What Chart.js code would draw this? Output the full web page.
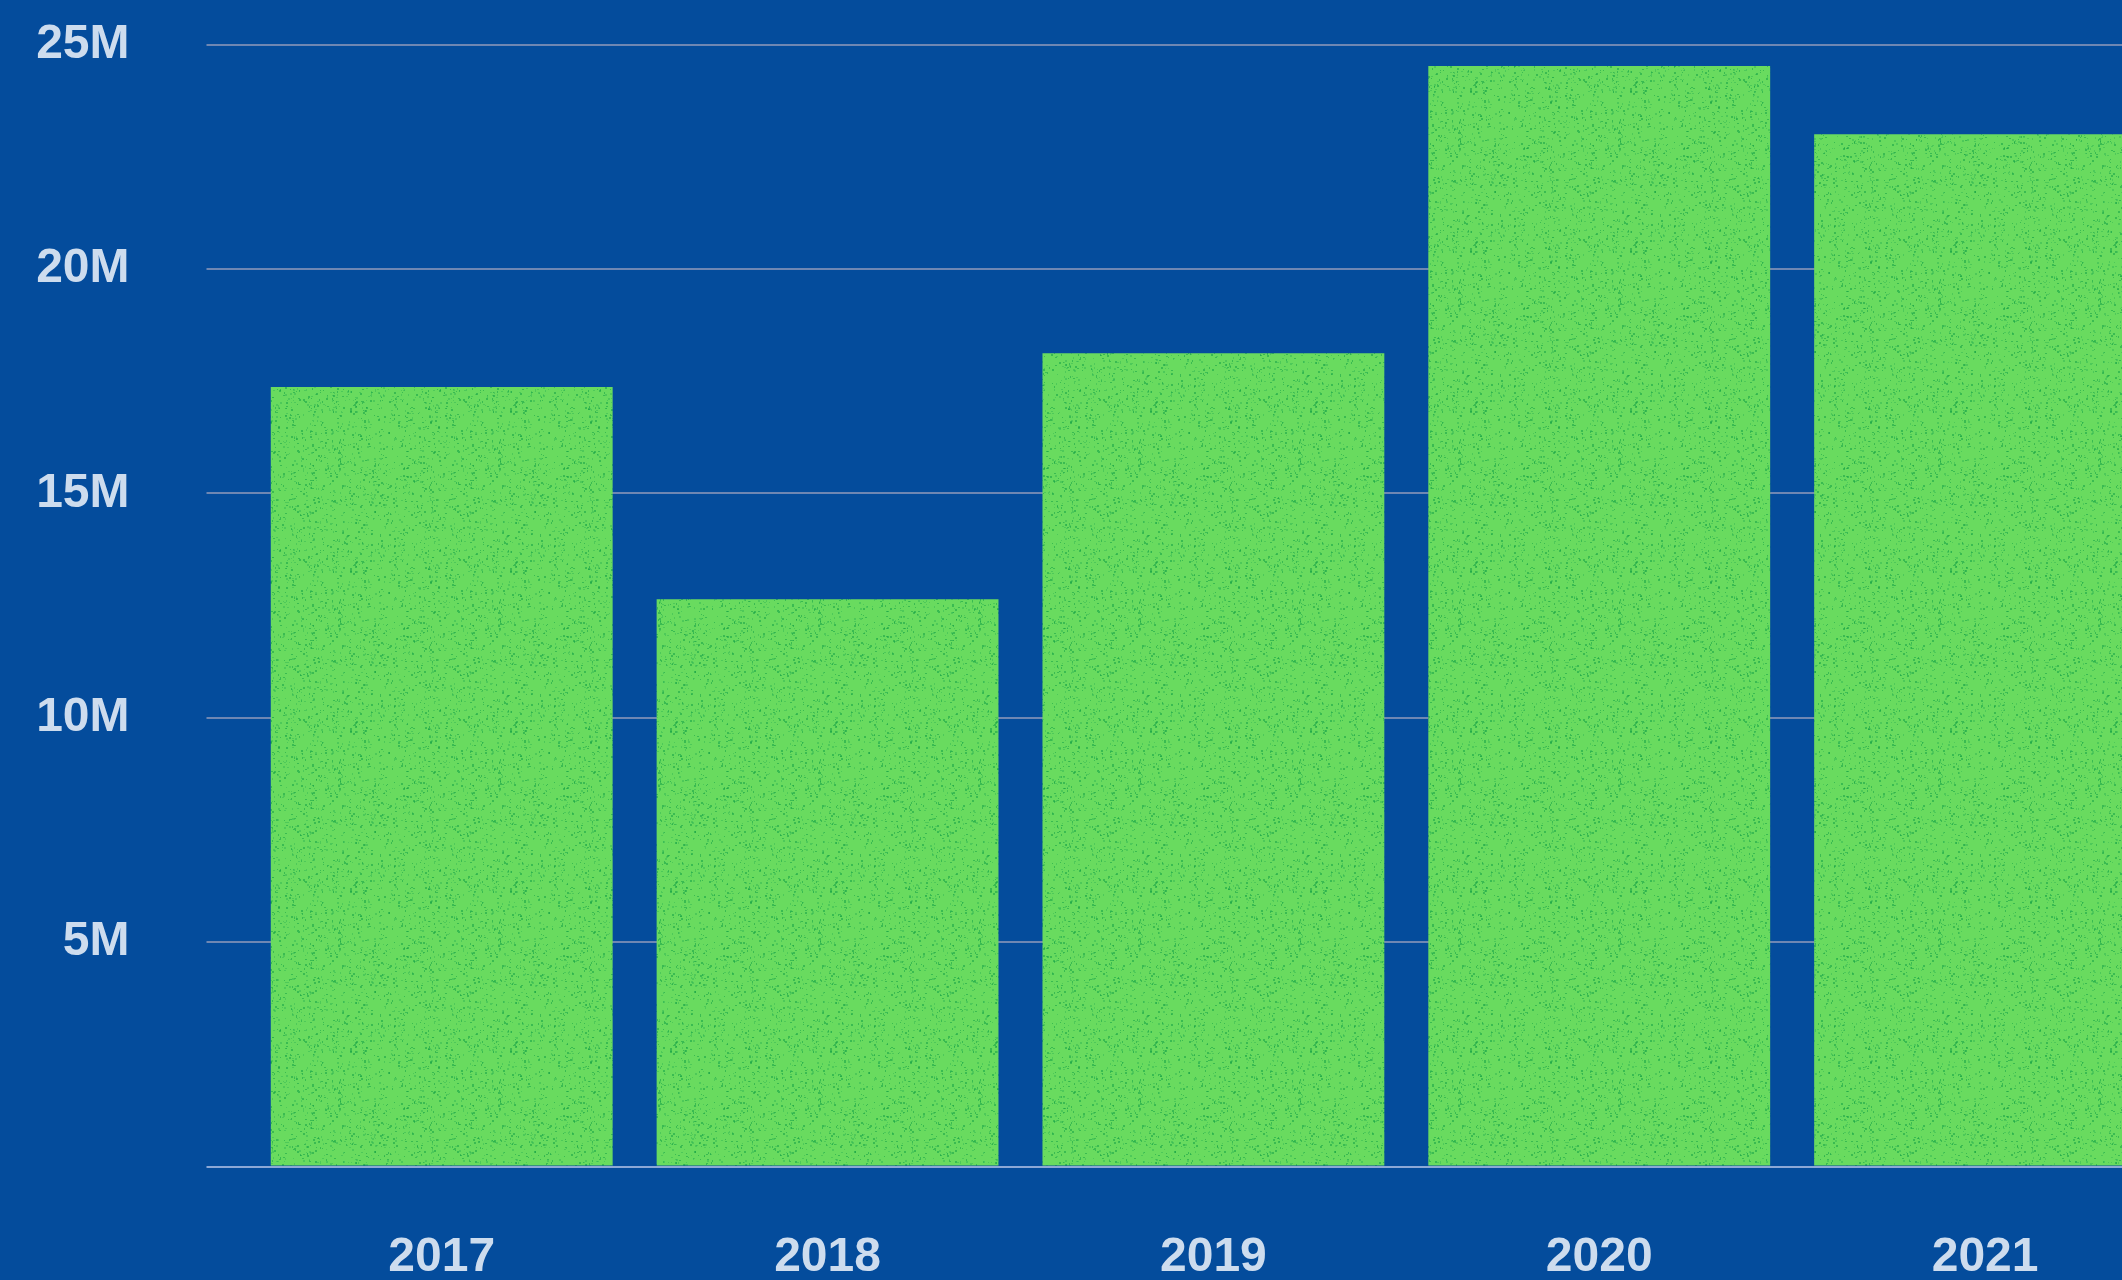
<!DOCTYPE html>
<html>
<head>
<meta charset="utf-8">
<script src="https://cdn.jsdelivr.net/npm/chart.js@4.4.1/dist/chart.umd.min.js"></script>
<style>
  html, body {
    margin: 0;
    padding: 0;
    width: 2122px;
    height: 1280px;
    overflow: hidden;
    background: #044c9c;
  }
  #wrap {
    position: absolute;
    left: 0;
    top: 0;
    width: 2178px;
    height: 1280px;
  }
</style>
</head>
<body>
<div id="wrap"><canvas id="chart" width="2178" height="1280"></canvas></div>
<script>
// Chart data (values in people)
const years = ['2017', '2018', '2019', '2020', '2021'];
const values = [17.37e6, 12.64e6, 18.12e6, 24.52e6, 23.0e6];
const yTickValues = [0, 5e6, 10e6, 15e6, 20e6, 25e6];
const yTickLabels = ['', '5M', '10M', '15M', '20M', '25M'];

const TEXT = '#cddcee';
const GRID = '#6f87b3';
const BASE = '#8ca8d6';
const FONT = { family: '"Liberation Sans", Arial, sans-serif', size: 48, weight: '700' };

// Speckled green fill, like a printed texture
function makeGrain() {
  const c = document.createElement('canvas');
  c.width = 160;
  c.height = 160;
  const g = c.getContext('2d');
  g.fillStyle = '#69db5f';
  g.fillRect(0, 0, 160, 160);
  let seed = 12345;
  const next = () => {
    seed = (seed * 1103515245 + 12345) & 0x7fffffff;
    return seed / 0x7fffffff;
  };
  for (let i = 0; i < 1400; i++) {
    g.fillStyle = next() < 0.5 ? 'rgba(20,160,70,0.55)' : 'rgba(30,170,80,0.35)';
    g.fillRect(Math.floor(next() * 160), Math.floor(next() * 160), 1 + Math.floor(next() * 2), 1 + Math.floor(next() * 2));
  }
  return g.createPattern(c, 'repeat');
}

const ctx = document.getElementById('chart').getContext('2d');
new Chart(ctx, {
  type: 'bar',
  data: {
    labels: years,
    datasets: [
      {
        data: values,
        backgroundColor: makeGrain(),
        borderWidth: 0,
        barPercentage: 0.886,
        categoryPercentage: 1,
      },
    ],
  },
  options: {
    responsive: false,
    animation: false,
    devicePixelRatio: 1,
    layout: {
      padding: { top: 44.5, left: 0, right: 0, bottom: 0 },
    },
    plugins: {
      legend: { display: false },
      tooltip: { enabled: false },
    },
    scales: {
      x: {
        offset: true,
        grid: { display: false, drawTicks: false },
        border: { display: false },
        ticks: {
          color: TEXT,
          font: FONT,
          padding: 62,
          maxRotation: 0,
        },
        afterFit: (scale) => {
          scale.height = 113.5; // baseline sits at y = 1166.5
        },
      },
      y: {
        min: 0,
        max: 25e6,
        afterBuildTicks: (scale) => {
          scale.ticks = yTickValues.map((v) => ({ value: v }));
        },
        grid: {
          color: (c) => (c.tick && c.tick.value === 0 ? BASE : GRID),
          lineWidth: 2,
          drawTicks: true,
          tickLength: 42.3,
        },
        border: { display: false },
        ticks: {
          color: TEXT,
          font: FONT,
          padding: 77,
          callback: (value) => {
            const i = yTickValues.indexOf(value);
            return i >= 0 ? yTickLabels[i] : '';
          },
        },
        afterFit: (scale) => {
          scale.width = 248.8;
          // let the layout padding alone decide where the top line sits
          scale.paddingTop = 0;
          scale.paddingBottom = 0;
        },
      },
    },
  },
});
</script>
</body>
</html>
